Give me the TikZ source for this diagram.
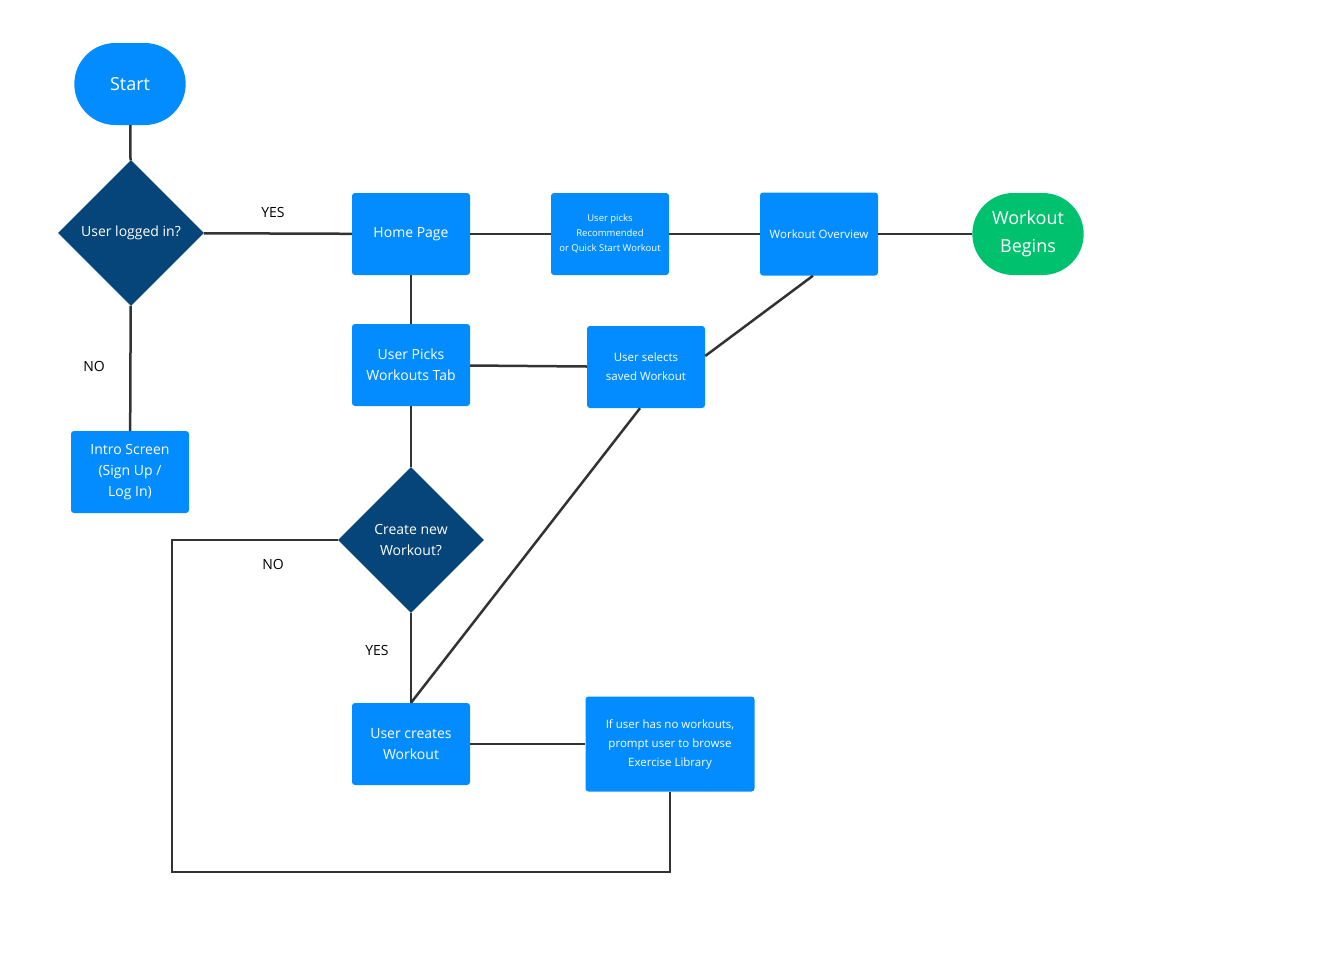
\documentclass[tikz,border=0pt]{standalone}
\usepackage{fontspec}
\setmainfont{Open Sans}
\usetikzlibrary{shapes.geometric}
\definecolor{bl}{RGB}{3,140,255}
\definecolor{dk}{RGB}{5,69,122}
\definecolor{gr}{RGB}{0,194,110}
\definecolor{ln}{RGB}{51,51,51}
\begin{document}
\begin{tikzpicture}[x=1pt,y=-1pt,
 box/.style={fill=bl,rounded corners=3pt,minimum width=118pt,minimum height=82pt,text=white,align=center,font=\fontsize{14}{21}\selectfont,inner sep=2pt},
 sm/.style={box,font=\fontsize{9.5}{15}\selectfont},
 md/.style={box,font=\fontsize{11.5}{19}\selectfont},
 term/.style={rounded rectangle,fill=bl,minimum width=118pt,minimum height=82pt,text=white,align=center,font=\fontsize{18}{28}\selectfont},
 dia/.style={diamond,fill=dk,minimum width=146pt,minimum height=146pt,text=white,align=center,font=\fontsize{14}{21}\selectfont,inner sep=0pt},
 lab/.style={font=\fontsize{14}{17}\selectfont},
 con/.style={draw=ln,line width=2.5pt}]
\usetikzlibrary{shapes.misc}
\fill[white] (0,0) rectangle (1331,959);
\node[term] (start) at (130,84) {Start};
\node[dia] (login) at (131,233) {User logged in?};
\node[box] (home) at (411,234) {Home Page};
\node[sm] (rec) at (610,234) {User picks\\Recommended\\or Quick Start Workout};
\node[md,minimum height=83pt] (over) at (819,234) {Workout Overview};
\node[term,fill=gr] (begin) at (1028,234) {Workout\\Begins};
\node[box] (tab) at (411,365) {User Picks\\Workouts Tab};
\node[md] (saved) at (646,367) {User selects\\saved Workout};
\node[box] (intro) at (130,472) {Intro Screen\\(Sign Up /\\Log In)};
\node[dia] (create) at (411,540) {Create new\\Workout?};
\node[box] (ucreate) at (411,744) {User creates\\Workout};
\node[md,minimum width=169pt,minimum height=95pt] (nowk) at (670,744) {If user has no workouts,\\prompt user to browse\\Exercise Library};
\coordinate (c1) at (172,540);
\coordinate (c2) at (172,872);
\coordinate (c3) at (670,872);
\draw[con] (start) -- (login);
\draw[con] (login) -- (home);
\draw[con] (home) -- (rec);
\draw[con] (rec) -- (over);
\draw[con] (over) -- (begin);
\draw[con] (login) -- (intro);
\draw[con] (home) -- (tab);
\draw[con] (tab) -- (saved);
\draw[con] (tab) -- (create);
\draw[con] (create) -- (ucreate);
\draw[con] (ucreate) -- (nowk);
\draw[con] (over.south) ++(-6,0) coordinate (o1);
\draw[con] (o1) -- (saved.east |- 0,356);
\draw[con] (saved.south) ++(-6,0) coordinate (s1);
\draw[con] (s1) -- (ucreate.north) ++(36,0);
\draw[con] (create.west) -- (c1) -- (c2) -- (c3) -- (nowk.south);
\node[lab] at (273,212) {YES};
\node[lab] at (94,366) {NO};
\node[lab] at (273,564) {NO};
\node[lab] at (377,650) {YES};
\end{tikzpicture}
\end{document}
